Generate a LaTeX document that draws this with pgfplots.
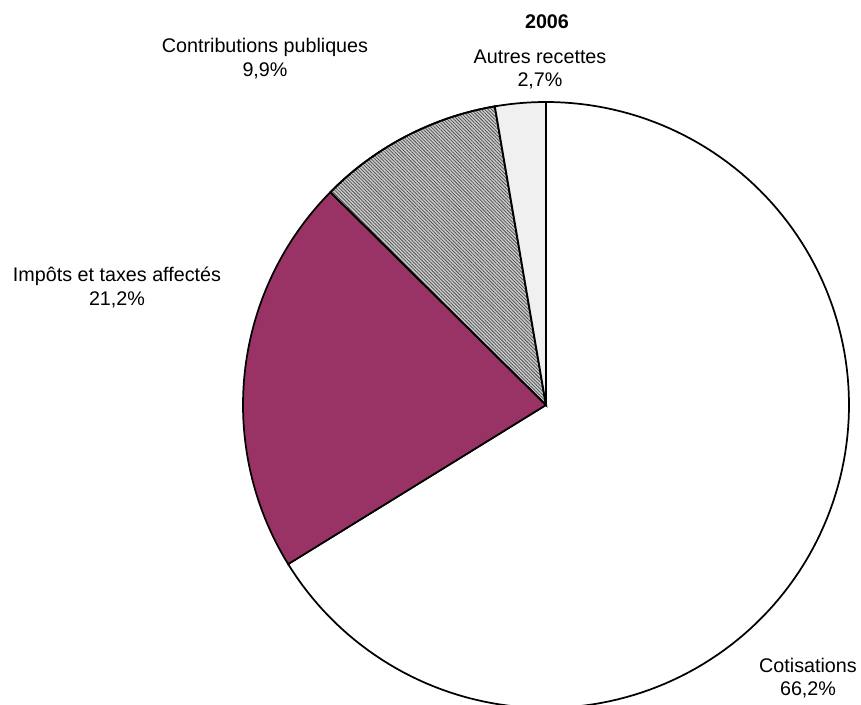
\documentclass[border=0pt]{standalone}
\usepackage{fontspec}
\setmainfont{Liberation Sans}
\usepackage{pgfplots}
\pgfplotsset{compat=1.18}
\usetikzlibrary{patterns.meta}
\definecolor{plum}{HTML}{993366}
% shares (percent), clockwise from 12 o'clock
\def\vCot{66.2}
\def\vImp{21.2}
\def\vCon{9.9}
\def\vAut{2.7}
\begin{document}
\begin{tikzpicture}
\pgfmathsetmacro\aA{90}
\pgfmathsetmacro\aB{90-3.6*\vCot}
\pgfmathsetmacro\aC{\aB-3.6*\vImp}
\pgfmathsetmacro\aD{\aC-3.6*\vCon}
\pgfmathsetmacro\aE{\aD-3.6*\vAut}
\def\cx{546}\def\cy{299}\def\r{303}
\begin{axis}[x=0.75pt, y=0.75pt, xmin=0, xmax=861, ymin=0, ymax=704,
  hide axis, scale only axis, clip=true]
\addplot[draw=black, line width=1.3pt, fill=white, domain=\aB:\aA, samples=150]
  ({\cx+\r*cos(x)},{\cy+\r*sin(x)}) -- (axis cs:\cx,\cy) -- cycle;
\addplot[draw=black, line width=1.3pt, fill=plum, domain=\aC:\aB, samples=80]
  ({\cx+\r*cos(x)},{\cy+\r*sin(x)}) -- (axis cs:\cx,\cy) -- cycle;
\addplot[draw=black, line width=1.3pt, fill=gray!40,
  postaction={pattern={Lines[angle=-45, distance=1.8pt, line width=0.55pt]}, pattern color=black!70},
  domain=\aD:\aC, samples=40]
  ({\cx+\r*cos(x)},{\cy+\r*sin(x)}) -- (axis cs:\cx,\cy) -- cycle;
\addplot[draw=black, line width=1.3pt, fill=gray!12, domain=\aE:\aD, samples=15]
  ({\cx+\r*cos(x)},{\cy+\r*sin(x)}) -- (axis cs:\cx,\cy) -- cycle;
\begin{scope}[every node/.style={align=center, font=\fontsize{14.8}{17.5}\selectfont}]
\node at (axis cs:547,682) {\textbf{2006}};
\node at (axis cs:540,634.5) {Autres recettes\\2,7\%};
\node at (axis cs:265,645.5) {Contributions publiques\\9,9\%};
\node at (axis cs:117,416.5) {Impôts et taxes affectés\\21,2\%};
\node at (axis cs:808,26) {Cotisations\\66,2\%};
\end{scope}
\end{axis}
\pgfresetboundingbox
\useasboundingbox (current axis.south west) rectangle (current axis.north east);
\end{tikzpicture}
\end{document}
